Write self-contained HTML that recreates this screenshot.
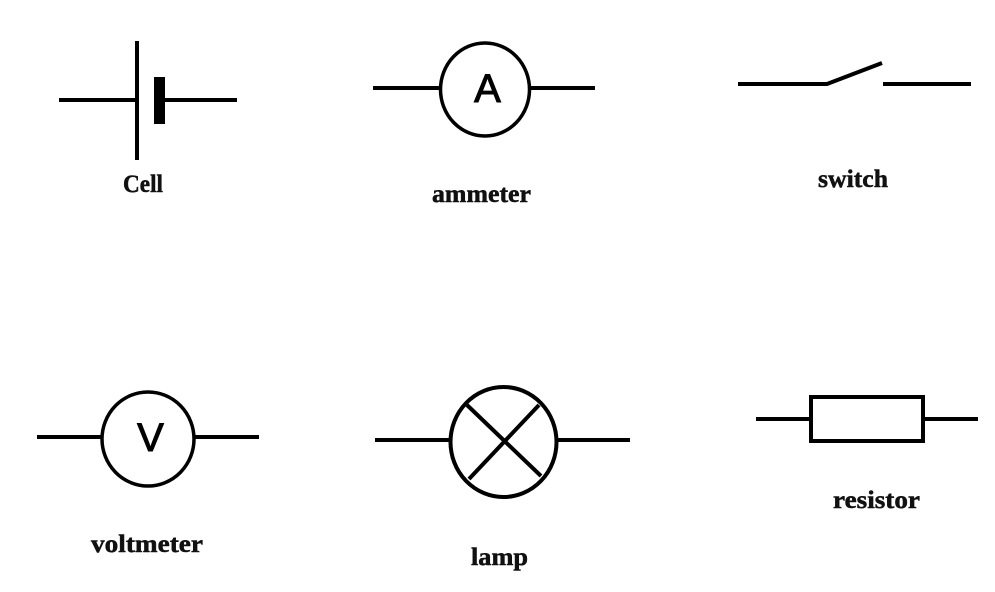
<!DOCTYPE html>
<html>
<head>
<meta charset="utf-8">
<style>
  html, body { margin: 0; padding: 0; background: #fff; }
  svg { display: block; }
  .lbl { font-family: "Liberation Serif", serif; font-weight: bold; font-size: 25px; fill: #111; stroke: #111; stroke-width: 0.5; }
  .sym { font-family: "Liberation Sans", sans-serif; font-size: 40px; fill: #000; stroke: #000; stroke-width: 1; }
</style>
</head>
<body>
<svg width="995" height="592" viewBox="0 0 995 592" xmlns="http://www.w3.org/2000/svg">
  <rect width="995" height="592" fill="#fff"/>
  <g stroke="#000" stroke-width="4" fill="none">
    <!-- Cell -->
    <line x1="59" y1="100" x2="137" y2="100"/>
    <line x1="137" y1="41" x2="137" y2="160"/>
    <line x1="165" y1="100" x2="237" y2="100"/>
    <rect x="154" y="77" width="11" height="47" fill="#000" stroke="none"/>

    <!-- Ammeter -->
    <line x1="373" y1="88" x2="440" y2="88"/>
    <ellipse cx="485" cy="89.5" rx="44.5" ry="46.5" stroke-width="3.5"/>
    <line x1="530" y1="88" x2="595" y2="88"/>

    <!-- Switch -->
    <polyline points="738,84 827,84 882,63"/>
    <line x1="883" y1="84" x2="971" y2="84"/>

    <!-- Voltmeter -->
    <line x1="37" y1="437" x2="102" y2="437"/>
    <ellipse cx="148" cy="439" rx="46" ry="47" stroke-width="3.5"/>
    <line x1="194" y1="437" x2="259" y2="437"/>

    <!-- Lamp -->
    <line x1="375" y1="440" x2="450" y2="440"/>
    <ellipse cx="503.5" cy="442" rx="53" ry="55"/>
    <line x1="557" y1="440" x2="630" y2="440"/>
    <line x1="467" y1="405" x2="541" y2="476"/>
    <line x1="539" y1="405" x2="469" y2="479"/>

    <!-- Resistor -->
    <line x1="756" y1="419" x2="811" y2="419"/>
    <rect x="811" y="397" width="112" height="44"/>
    <line x1="923" y1="419" x2="978" y2="419"/>
  </g>

  <!-- Meter letters -->
  <text class="sym" x="487.5" y="102" text-anchor="middle">A</text>
  <text class="sym" x="150.5" y="451" text-anchor="middle">V</text>

  <!-- Labels -->
  <text class="lbl" x="123" y="192" textLength="40" lengthAdjust="spacingAndGlyphs">Cell</text>
  <text class="lbl" x="432" y="202" textLength="99" lengthAdjust="spacingAndGlyphs">ammeter</text>
  <text class="lbl" x="818" y="187" textLength="70" lengthAdjust="spacingAndGlyphs">switch</text>
  <text class="lbl" x="91" y="552" textLength="112" lengthAdjust="spacingAndGlyphs">voltmeter</text>
  <text class="lbl" x="471" y="565" textLength="57" lengthAdjust="spacingAndGlyphs">lamp</text>
  <text class="lbl" x="833" y="508" textLength="87" lengthAdjust="spacingAndGlyphs">resistor</text>
</svg>
</body>
</html>
